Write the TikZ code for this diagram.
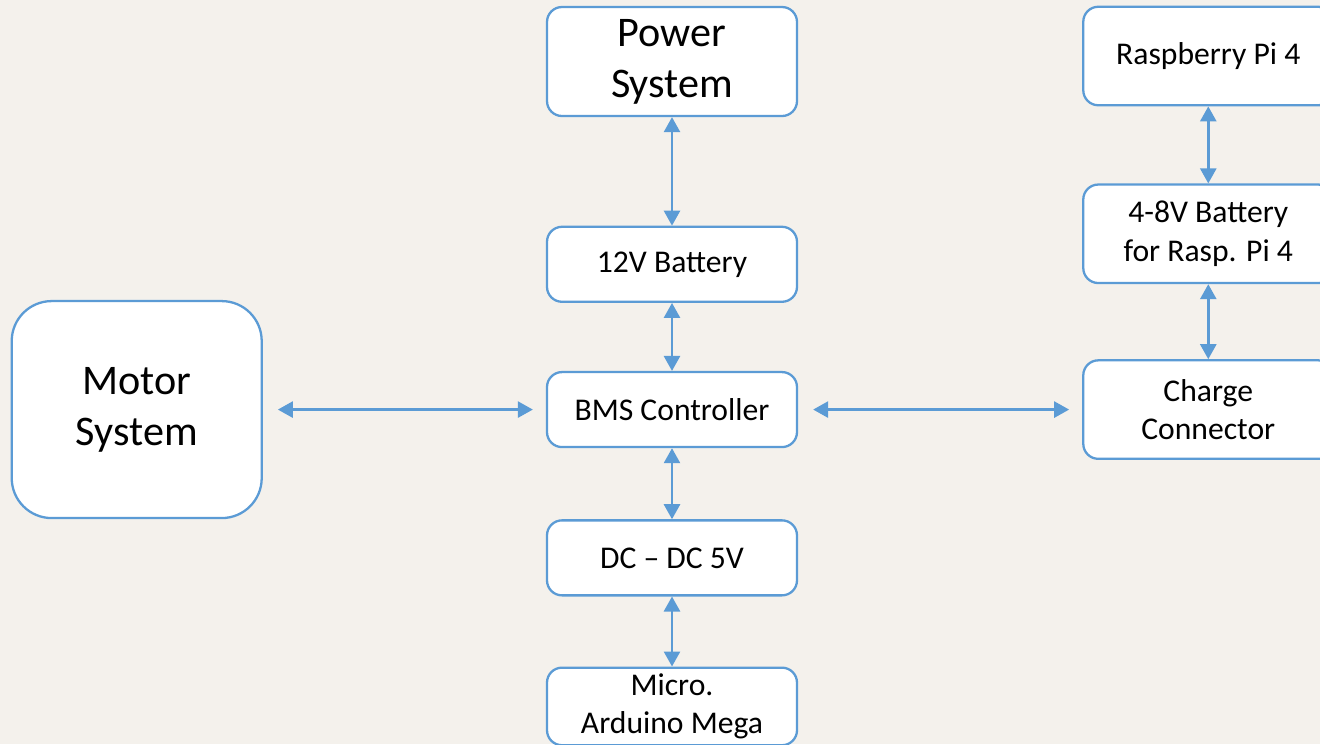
\documentclass[tikz,border=0pt]{standalone}
\usepackage{fontspec}
\setmainfont{Carlito}
\usepackage{xcolor}
\usepackage{tikz}
\usetikzlibrary{arrows.meta,positioning}

\definecolor{pagebg}{HTML}{F4F1EC}
\definecolor{linkblue}{HTML}{5B9BD5}

\begin{document}
\begin{tikzpicture}[
  every node/.style={font=\fontsize{18}{22}\selectfont},
  block/.style={rectangle, draw=linkblue, line width=1.3pt, fill=white, rounded corners=0.3cm, minimum width=5cm, minimum height=1.5cm, align=center},
  tallblock/.style={block, minimum height=1.97cm},
  bigblock/.style={block, font=\fontsize{24}{29}\selectfont, minimum height=2.18cm},
  link/.style={{Triangle[length=0.3cm,width=0.32cm]}-{Triangle[length=0.3cm,width=0.32cm]}, draw=linkblue, line width=1.5pt},
  >=Stealth
]
  % page and margins
  \fill[pagebg] (0,0) rectangle (26.4,-14.88);
  \useasboundingbox (0,0) rectangle (26.4,-14.88);

  % centre column
  \node[bigblock] (power) at (13.44,-1.23) {Power\\System};
  \node[block, below=2.17cm of power] (batt12) {12V Battery};
  \node[block, below=1.36cm of batt12] (bms) {BMS Controller};
  \node[block, below=1.42cm of bms] (dcdc) {DC \textendash{} DC 5V};
  \node[block, below=1.4cm of dcdc, minimum height=1.48cm] (micro) {Micro.\\Arduino Mega};

  % left and right
  \node[bigblock, left=5.66cm of bms, rounded corners=0.8cm, minimum height=4.34cm] (motor) {Motor\\System};
  \node[tallblock, right=5.68cm of bms] (charge) {Charge\\Connector};
  \node[tallblock, above=1.5cm of charge] (batt48) {4-8V Battery\\for Rasp. Pi 4};
  \node[tallblock, above=1.54cm of batt48] (rpi) {Raspberry Pi 4};

  \draw[link] (power) -- (batt12);
  \draw[link] (batt12) -- (bms);
  \draw[link] (bms) -- (dcdc);
  \draw[link] (dcdc) -- (micro);
  \draw[link, shorten <=0.3cm, shorten >=0.26cm] (motor) -- (bms);
  \draw[link, shorten <=0.3cm, shorten >=0.26cm] (bms) -- (charge);
  \draw[link] (rpi) -- (batt48);
  \draw[link] (batt48) -- (charge);
\end{tikzpicture}
\end{document}
